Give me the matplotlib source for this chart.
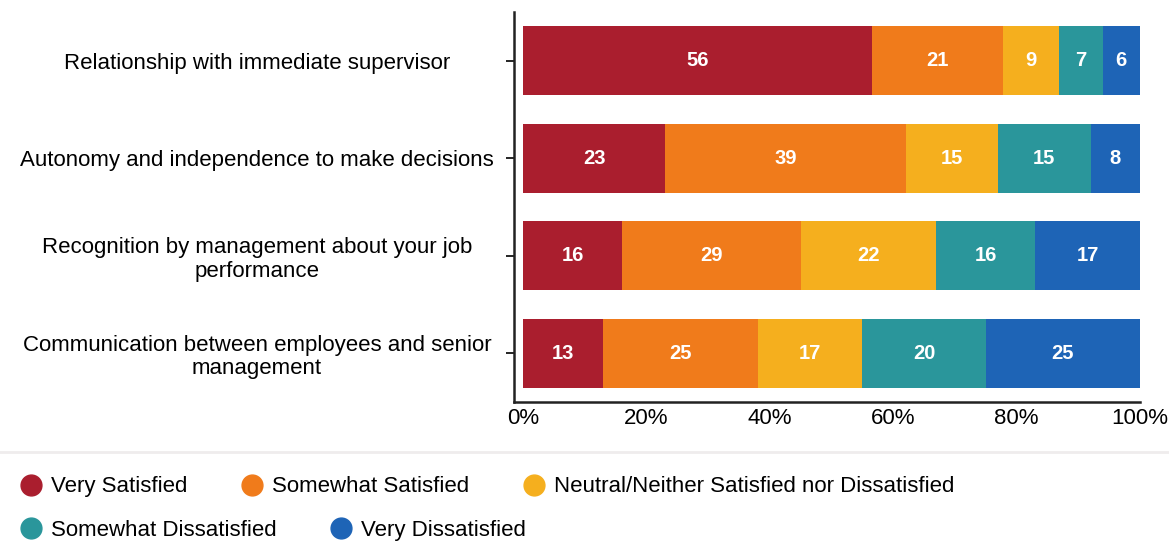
import matplotlib.pyplot as plt
from matplotlib.lines import Line2D
import numpy as np

plt.rcParams['font.family'] = ['Liberation Sans', 'DejaVu Sans']

questions = [
    "Relationship with immediate supervisor",
    "Autonomy and independence to make decisions",
    "Recognition by management about your job\nperformance",
    "Communication between employees and senior\nmanagement",
]
responses = [
    "Very Satisfied",
    "Somewhat Satisfied",
    "Neutral/Neither Satisfied nor Dissatisfied",
    "Somewhat Dissatisfied",
    "Very Dissatisfied",
]
very_satisfied = [56, 23, 16, 13]
somewhat_satisfied = [21, 39, 29, 25]
neutral = [9, 15, 22, 17]
somewhat_dissatisfied = [7, 15, 16, 20]
very_dissatisfied = [6, 8, 17, 25]
colors = ["#AA1E2E", "#F07B1B", "#F5AF1E", "#2A969B", "#1E64B6"]

series = np.array([very_satisfied, somewhat_satisfied, neutral,
                   somewhat_dissatisfied, very_dissatisfied], dtype=float)
# each row is scaled to fill 100%
shares = series / series.sum(axis=0) * 100

fig = plt.figure(figsize=(11.69, 5.44), dpi=100)
ax = fig.add_axes([0.4397, 0.261, 0.5355, 0.717])

y = np.arange(len(questions))
left = np.zeros(len(questions))
for vals, raw, col, name in zip(shares, series, colors, responses):
    bars = ax.barh(y, vals, left=left, height=0.71, color=col, label=name)
    ax.bar_label(bars, labels=[f"{v:.0f}" for v in raw], label_type='center',
                 color='white', fontsize=14.5, fontweight='bold')
    left += vals

ax.set_xlim(-1.5, 100)
ax.set_ylim(3.5, -0.5)
ax.set_yticks(y)
ax.set_yticklabels(questions, fontsize=16, ha='center', multialignment='center',
                   linespacing=1.15)
ax.tick_params(axis='y', length=6, width=1.2, pad=6)
for lbl in ax.get_yticklabels():
    lbl.set_x(-0.384)
ax.set_xticks([0, 20, 40, 60, 80, 100])
ax.set_xticklabels(["0%", "20%", "40%", "60%", "80%", "100%"], fontsize=16)
ax.tick_params(axis='x', length=0, pad=4)
for s in ['top', 'right']:
    ax.spines[s].set_visible(False)
for s in ['left', 'bottom']:
    ax.spines[s].set_linewidth(1.8)
    ax.spines[s].set_color('#222222')

# faint divider above the legend
fig.add_artist(Line2D([0, 1], [0.169, 0.169], transform=fig.transFigure,
                      color='#efeced', linewidth=2))

def handle(c):
    return Line2D([], [], linestyle='none', marker='o', markersize=15,
                  markerfacecolor=c, markeredgecolor=c)

legend_font = {'size': 16}
fig.legend([handle(c) for c in colors[:3]], responses[:3], ncol=3,
           loc='center left', bbox_to_anchor=(0.0, 0.105), frameon=False,
           prop=legend_font, handlelength=1.0, handletextpad=0.4,
           columnspacing=2.4)
fig.legend([handle(c) for c in colors[3:]], responses[3:], ncol=2,
           loc='center left', bbox_to_anchor=(0.0, 0.025), frameon=False,
           prop=legend_font, handlelength=1.0, handletextpad=0.4,
           columnspacing=2.4)

fig.savefig("out.png", dpi=100)
